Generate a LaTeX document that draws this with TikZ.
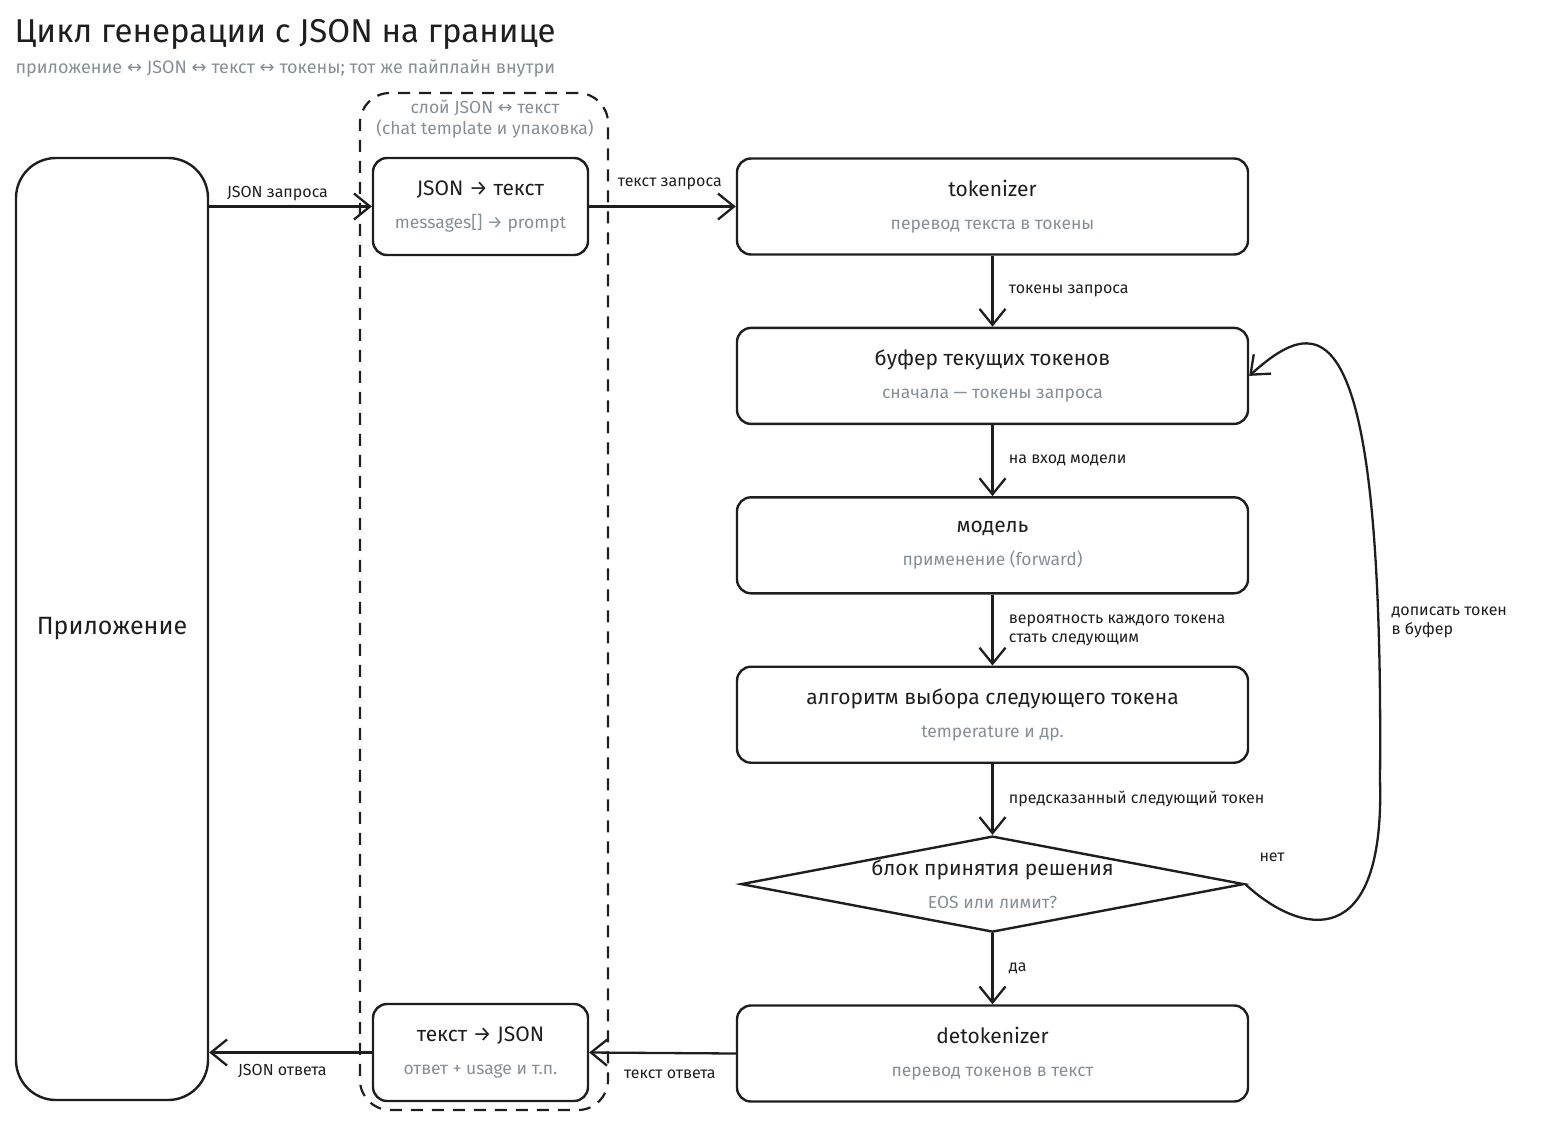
\documentclass[tikz,border=0pt]{standalone}
\usepackage{fontspec}
\setmainfont{Fira Sans}
\newfontfamily\arrowfont{DejaVu Sans}
\usepackage{xcolor}
\definecolor{Ink}{HTML}{1E1E1E}
\definecolor{Slate}{HTML}{868E96}
\colorlet{ink}{Ink}
\colorlet{slate}{Slate}
\usepackage{tikz}
\usetikzlibrary{arrows.meta,positioning,shapes.geometric}
\newcommand{\lra}{{\arrowfont ↔}}
\newcommand{\stagetext}[2]{{\fontsize{21}{24}\selectfont #1}\\[13pt]{\color{slate}\fontsize{17.5}{20}\selectfont #2}}

\begin{document}
\begin{tikzpicture}[x=1pt,y=-1pt,every node/.style={align=center,text=ink},node distance=71pt,
stage/.style={draw=ink,line width=2.4pt,rounded corners=14pt,minimum width=511pt,minimum height=96pt,font=\fontsize{16}{20}\selectfont},
conv/.style={stage,minimum width=215pt,minimum height=97pt},
decision/.style={draw=ink,line width=2.4pt,diamond,aspect=5.2,inner sep=0pt,minimum width=503pt,minimum height=96pt,font=\fontsize{16}{20}\selectfont},
flow/.style={-{Straight Barb[length=16pt,width=26pt]},line width=2.3pt,draw=ink},
lbl/.style={font=\fontsize{16}{19}\selectfont,align=left}]
\useasboundingbox (0,0) rectangle (1560,1127);
\node[anchor=west,font=\fontsize{33}{38}\selectfont] (title) at (11,34) {Цикл генерации с JSON на границе};
\node[anchor=west,text=slate,font=\fontsize{18}{21}\selectfont] (subtitle) at (12,68) {приложение \lra{} JSON \lra{} текст \lra{} токены; тот же пайплайн внутри};
% application and JSON layer
\node[draw=ink,line width=2.4pt,rounded corners=40pt,minimum width=192pt,minimum height=942pt] (app) at (112,629) {\fontsize{25}{29}\selectfont Приложение};
\node[draw=ink,line width=2.2pt,dash pattern=on 12pt off 9pt,rounded corners=30pt,minimum width=248pt,minimum height=1017pt] (layer) at (484,601.5) {};
\node[text=slate,font=\fontsize{17.5}{21}\selectfont] (layertitle) at (485,119) {слой JSON \lra{} текст\\(chat template и упаковка)};
\node[conv] (jin) at (480.5,206.5) {\stagetext{JSON → текст}{messages[] → prompt}};
\node[conv] (jout) at (480.5,1052.5) {\stagetext{текст → JSON}{ответ + usage и т.п.}};
% pipeline
\node[stage] (tok) at (992.5,206.5) {\stagetext{tokenizer}{перевод текста в токены}};
\node[stage,below=of tok] (buf) {\stagetext{буфер текущих токенов}{сначала — токены запроса}};
\node[stage,below=of buf] (model) {\stagetext{модель}{применение (forward)}};
\node[stage,below=of model] (algo) {\stagetext{алгоритм выбора следующего токена}{temperature и др.}};
\node[decision,below=of algo] (dec) {\stagetext{блок принятия решения}{EOS или лимит?}};
\node[stage,below=of dec] (detok) {\stagetext{detokenizer}{перевод токенов в текст}};
% connectors
\draw[flow] (app.east |- jin) -- node[lbl,above=1pt,pos=0.42] {JSON запроса} (jin.west);
\draw[flow] (jin.east) -- node[lbl,above=12pt,pos=0.55] {текст запроса} (tok.west);
\draw[flow] (tok) -- node[lbl,right=12pt] {токены запроса} (buf);
\draw[flow] (buf) -- node[lbl,right=12pt] {на вход модели} (model);
\draw[flow] (model) -- node[lbl,right=12pt] {вероятность каждого токена\\стать следующим} (algo);
\draw[flow] (algo) -- node[lbl,right=12pt] {предсказанный следующий токен} (dec);
\draw[flow] (dec) -- node[lbl,right=12pt] {да} (detok);
\draw[flow] (dec.east) .. controls (1300,935) and (1385,955) .. (1380,780) .. controls (1384,300) and (1320,312) .. (buf.east);
\node[lbl] (no) at (1272,857) {нет};
\node[lbl,anchor=west] (append) at (1388,622) {дописать токен\\в буфер};
\draw[flow] (detok.west) -- node[lbl,below=12pt,pos=0.45] {текст ответа} (jout.east);
\draw[flow] (jout.west) -- node[lbl,below=7pt,pos=0.55] {JSON ответа} (app.east |- jout);
\end{tikzpicture}
\end{document}
